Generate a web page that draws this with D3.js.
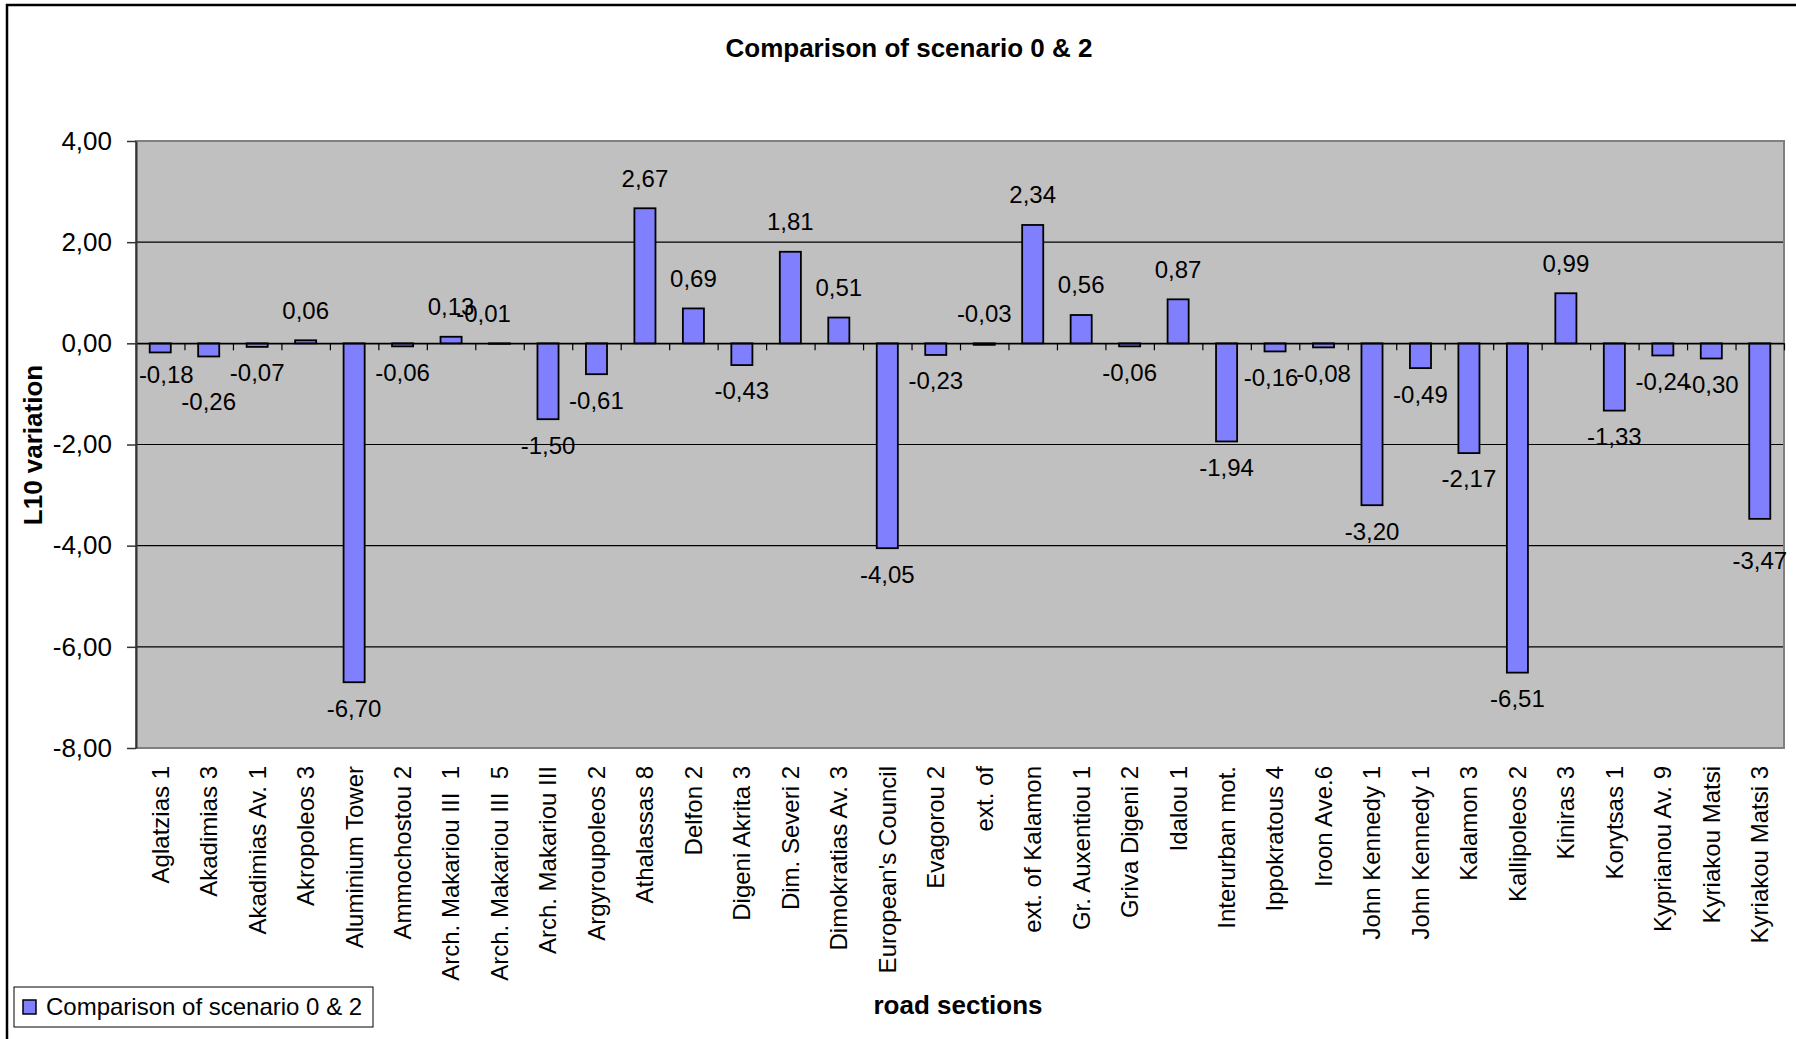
<!DOCTYPE html>
<html>
<head>
<meta charset="utf-8">
<script src="https://cdn.jsdelivr.net/npm/d3@7"></script>
<style>
  html, body { margin: 0; padding: 0; background: #fff; }
  svg { display: block; font-family: "Liberation Sans", Arial, sans-serif; }
</style>
</head>
<body>
<svg id="chart" width="1796" height="1039"></svg>
<script>
// Road sections and their L10 variation between scenario 0 and scenario 2
const categories = [
  "Aglatzias 1", "Akadimias 3", "Akadimias Av. 1", "Akropoleos 3", "Aluminium Tower",
  "Ammochostou 2", "Arch. Makariou III  1", "Arch. Makariou III  5", "Arch. Makariou III",
  "Argyroupoleos 2", "Athalassas 8", "Delfon 2", "Digeni Akrita 3", "Dim. Severi 2",
  "Dimokratias Av. 3", "European's Council", "Evagorou 2", "ext. of", "ext. of Kalamon",
  "Gr. Auxentiou 1", "Griva Digeni 2", "Idalou 1", "Interurban mot.", "Ippokratous 4",
  "Iroon Ave.6", "John Kennedy 1", "John Kennedy 1", "Kalamon 3", "Kallipoleos 2",
  "Kiniras 3", "Korytsas 1", "Kyprianou Av. 9", "Kyriakou Matsi", "Kyriakou Matsi 3"
];
const values = [
  -0.18, -0.26, -0.07, 0.06, -6.70,
  -0.06, 0.13, -0.01, -1.50,
  -0.61, 2.67, 0.69, -0.43, 1.81,
  0.51, -4.05, -0.23, -0.03, 2.34,
  0.56, -0.06, 0.87, -1.94, -0.16,
  -0.08, -3.20, -0.49, -2.17, -6.51,
  0.99, -1.33, -0.24, -0.30, -3.47
];
const yTicks = [4, 2, 0, -2, -4, -6, -8];
const chartTitle = "Comparison of scenario 0 & 2";
const seriesName = "Comparison of scenario 0 & 2";
const xTitle = "road sections";
const yTitle = "L10 variation";

// Hand-placed data labels that were dragged away from their default spot
const labelNudge = { 0: [6, -4], 1: [0, 19], 7: [-16, 0], 23: [-4, 0], 33: [0, 16] };

const svg = d3.select("#chart");
const W = 1796, H = 1039;
const plot = { left: 136, right: 1784, top: 141, bottom: 748 };
const FONT = 24;

const locale = d3.formatLocale({ decimal: ",", thousands: ".", grouping: [3], currency: ["", ""], minus: "-" });
const fmt = locale.format(".2f");

const idx = d3.range(categories.length);
const x = d3.scaleBand().domain(idx).range([plot.left, plot.right]).paddingInner(0).paddingOuter(0);
const xEdge = d3.scaleLinear().domain([0, categories.length]).range([plot.left, plot.right]);
const y = d3.scaleLinear().domain([-8, 4]).range([plot.bottom, plot.top]);

// chart frame
svg.append("rect").attr("width", W).attr("height", H).attr("fill", "#fff");
svg.append("rect").attr("x", 7).attr("y", 5).attr("width", W + 20).attr("height", H + 20)
  .attr("fill", "none").attr("stroke", "#000").attr("stroke-width", 2.5);

// plot area
svg.append("rect")
  .attr("x", plot.left).attr("y", plot.top)
  .attr("width", plot.right - plot.left).attr("height", plot.bottom - plot.top)
  .attr("fill", "#C0C0C0");

// gridlines
svg.append("g").selectAll("line")
  .data(yTicks.filter(d => d !== 4 && d !== -8))
  .join("line")
  .attr("x1", plot.left).attr("x2", plot.right)
  .attr("y1", d => y(d)).attr("y2", d => y(d))
  .attr("stroke", "#000").attr("stroke-width", 1.2);

// plot border
svg.append("rect")
  .attr("x", plot.left).attr("y", plot.top)
  .attr("width", plot.right - plot.left).attr("height", plot.bottom - plot.top)
  .attr("fill", "none").attr("stroke", "#808080").attr("stroke-width", 2);

// bars
const barW = x.bandwidth() / 2.3;
svg.append("g").selectAll("rect")
  .data(values)
  .join("rect")
  .attr("x", (d, i) => x(i) + (x.bandwidth() - barW) / 2)
  .attr("y", d => y(Math.max(d, 0)))
  .attr("width", barW)
  .attr("height", d => Math.abs(y(d) - y(0)))
  .attr("fill", "#8080FF")
  .attr("stroke", "#000")
  .attr("stroke-width", 1.8);

// category axis on the zero line, ticks at category boundaries
const zeroAxis = svg.append("g")
  .attr("transform", `translate(0,${y(0)})`)
  .call(d3.axisBottom(xEdge).tickValues(d3.range(categories.length + 1)).tickFormat("").tickSize(7).tickSizeOuter(0));
zeroAxis.select(".domain").attr("stroke", "#000").attr("stroke-width", 1.5);
zeroAxis.selectAll(".tick line").attr("stroke", "#000").attr("stroke-width", 1.2);

// value axis
const yAxis = svg.append("g")
  .attr("transform", `translate(${plot.left},0)`)
  .call(d3.axisLeft(y).tickValues(yTicks).tickFormat(fmt).tickSize(9).tickSizeOuter(0).tickPadding(15));
yAxis.select(".domain").attr("stroke", "#333").attr("stroke-width", 2);
yAxis.selectAll(".tick line").attr("stroke", "#333").attr("stroke-width", 1.5);
yAxis.selectAll(".tick text")
  .attr("fill", "#000").style("font-size", "26px")
  .style("font-family", "'Liberation Sans', Arial, sans-serif");

// category labels under the plot
const catAxis = svg.append("g")
  .attr("transform", `translate(0,${plot.bottom})`)
  .call(d3.axisBottom(x).tickFormat(i => categories[i]).tickSize(0));
catAxis.select(".domain").remove();
catAxis.selectAll(".tick text")
  .attr("transform", "rotate(-90)")
  .attr("x", -18).attr("y", 0).attr("dy", "0.35em")
  .style("text-anchor", "end")
  .style("white-space", "pre")
  .style("font-size", FONT + "px")
  .style("font-family", "'Liberation Sans', Arial, sans-serif")
  .attr("fill", "#000");

// data labels
svg.append("g").selectAll("text")
  .data(values)
  .join("text")
  .attr("x", (d, i) => x(i) + x.bandwidth() / 2 + (labelNudge[i] ? labelNudge[i][0] : 0))
  .attr("y", (d, i) => {
    const above = d > -0.05;
    const base = above ? y(Math.max(d, 0)) - 30 : y(d) + 26;
    return base + (labelNudge[i] ? labelNudge[i][1] : 0);
  })
  .attr("dy", "0.35em")
  .attr("text-anchor", "middle")
  .style("font-size", FONT + "px")
  .attr("fill", "#000")
  .text(d => fmt(d));

// titles
svg.append("text")
  .attr("x", 909).attr("y", 57)
  .attr("text-anchor", "middle")
  .style("font-size", "26px").style("font-weight", "bold")
  .text(chartTitle);

svg.append("text")
  .attr("transform", "translate(33,445) rotate(-90)")
  .attr("text-anchor", "middle").attr("dy", "0.35em")
  .style("font-size", "26px").style("font-weight", "bold")
  .text(yTitle);

svg.append("text")
  .attr("x", 958).attr("y", 1005).attr("dy", "0.35em")
  .attr("text-anchor", "middle")
  .style("font-size", "26px").style("font-weight", "bold")
  .text(xTitle);

// legend
const legend = svg.append("g");
legend.append("rect")
  .attr("x", 14).attr("y", 987).attr("width", 359).attr("height", 40)
  .attr("fill", "#fff").attr("stroke", "#000").attr("stroke-width", 1);
legend.append("rect")
  .attr("x", 23).attr("y", 1000).attr("width", 13).attr("height", 14)
  .attr("fill", "#8080FF").attr("stroke", "#000").attr("stroke-width", 1.5);
legend.append("text")
  .attr("x", 46).attr("y", 1007).attr("dy", "0.35em")
  .style("font-size", FONT + "px")
  .text(seriesName);
</script>
</body>
</html>
